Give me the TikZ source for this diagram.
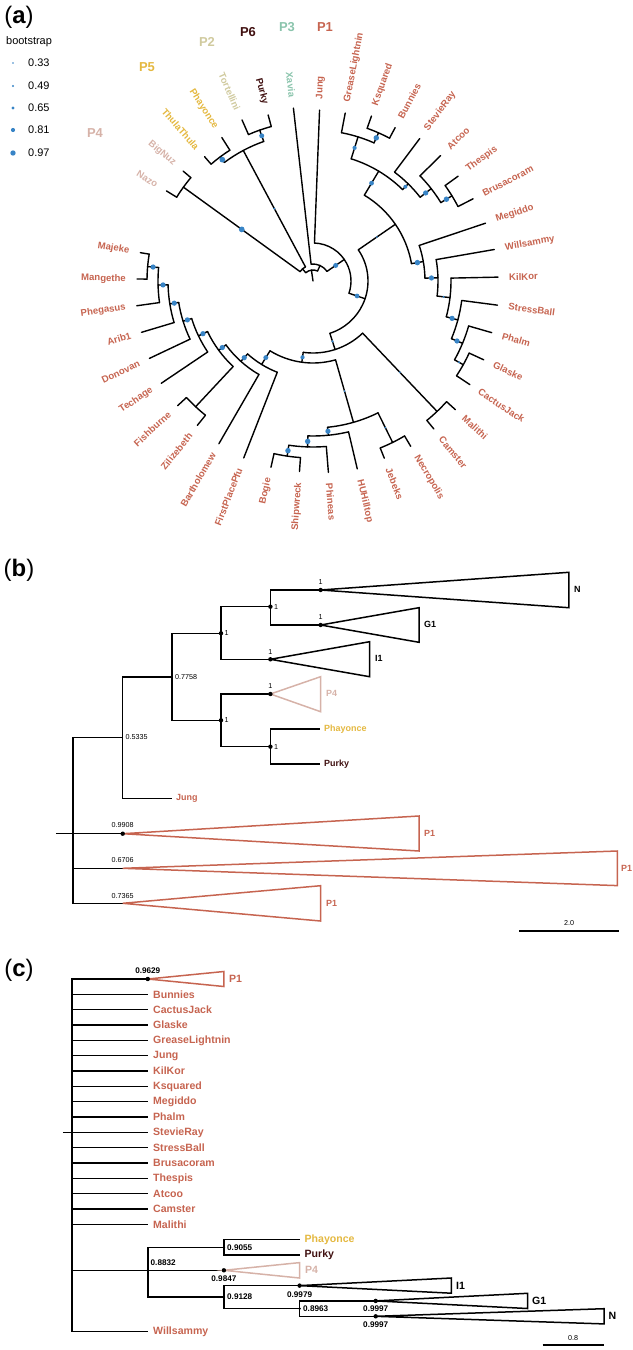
\documentclass[tikz,border=0pt]{standalone}
\usepackage{fontspec}
\setmainfont{Liberation Sans}
\definecolor{pOne}{RGB}{198,100,80}
\definecolor{pTwo}{RGB}{208,202,158}
\definecolor{pThree}{RGB}{138,196,172}
\definecolor{pFour}{RGB}{214,178,168}
\definecolor{pFive}{RGB}{228,184,64}
\definecolor{pSix}{RGB}{64,16,16}
\definecolor{bsblue}{RGB}{56,132,198}
% circular tree helpers: compass angle (clockwise from up)
\newcommand\cbarc[3]{\draw[tr] ({90-(#1)}:#3) arc[start angle={90-(#1)}, end angle={90-(#2)}, radius=#3];}
\newcommand\cbnode[5]{\draw[tr] ({90-(#1)}:#2) -- ({90-(#1)}:#3);\cbarc{#4}{#5}{#3}}
\newcommand\cbleafR[6]{\draw[tr] ({90-(#1)}:#2) -- ({90-(#1)}:#3);
  \node[leafa,text=#6,anchor=west,rotate={90-(#1)}] (#5) at ({90-(#1)}:{#3+11}) {#4};}
\newcommand\cbleafL[6]{\draw[tr] ({90-(#1)}:#2) -- ({90-(#1)}:#3);
  \node[leafa,text=#6,anchor=east,rotate={270-(#1)}] (#5) at ({90-(#1)}:{#3+11}) {#4};}
\newcommand\cbdot[4]{\fill[bsblue] ({90-(#1)}:{((#2)+(#3))/2}) circle[radius={1.25*(#4)}];}
\begin{document}
\begin{tikzpicture}[x=1bp,y=1bp,
  tr/.style={line width=1.4bp,line cap=round,line join=round},
  tri/.style={line width=1.5bp,line join=miter},
  leafa/.style={font={\bfseries\fontsize{9.6}{9.6}\selectfont},inner sep=0pt},
  leafb/.style={font={\bfseries\fontsize{9}{9}\selectfont},inner sep=0pt,anchor=west},
  leafc/.style={font={\bfseries\fontsize{10.6}{10.6}\selectfont},inner sep=0pt,anchor=west},
  valb/.style={font={\fontsize{7.2}{7.2}\selectfont},inner sep=0pt},
  valc/.style={font={\bfseries\fontsize{8.2}{8.2}\selectfont},inner sep=0pt},
  grp/.style={font={\bfseries\fontsize{13}{13}\selectfont},inner sep=0pt},
  panel/.style={font={\fontsize{24}{24}\selectfont},inner sep=0pt},
  leg/.style={font={\fontsize{11}{11}\selectfont},inner sep=0pt,anchor=west}]
\useasboundingbox (0,0) rectangle (633,-1350);

% ================= panel (a) =================
\node[panel] (la) at (19,-17) {(\textbf{a})};
\node[leg] (legt) at (6,-42) {bootstrap};
\fill[bsblue] (13,-63) circle[radius=0.8];  \node[leg] (l1) at (28,-63) {0.33};
\fill[bsblue] (13,-86) circle[radius=1.2];  \node[leg] (l2) at (28,-86) {0.49};
\fill[bsblue] (13,-108) circle[radius=1.6]; \node[leg] (l3) at (28,-108) {0.65};
\fill[bsblue] (13,-130) circle[radius=2.1]; \node[leg] (l4) at (28,-130) {0.81};
\fill[bsblue] (13,-153) circle[radius=2.7]; \node[leg] (l5) at (28,-153) {0.97};

\node[grp,text=pOne]   (gP1) at (325,-27) {P1};
\node[grp,text=pThree] (gP3) at (287,-27) {P3};
\node[grp,text=pSix]   (gP6) at (248,-32) {P6};
\node[grp,text=pTwo]   (gP2) at (207,-42) {P2};
\node[grp,text=pFive]  (gP5) at (147,-67) {P5};
\node[grp,text=pFour]  (gP4) at (95,-133) {P4};

\begin{scope}[shift={(313,-281)}]
\draw[tr] (0,0) -- ({90-(-8.29)}:11);
\cbarc{-41.10}{24.52}{11}
% Ta : P4, P5/P2/P6
\cbnode{-41.10}{11}{16}{-54.09}{-28.11}
\cbnode{-54.09}{16}{160}{-58.42}{-49.76}
\cbleafL{-58.42}{160}{172}{Nazo}{aNazo}{pFour}
\cbleafL{-49.76}{160}{170}{BigNuz}{aBigNuz}{pFour}
\cbnode{-28.11}{16}{148}{-36.77}{-19.45}
\cbnode{-36.77}{148}{155}{-41.10}{-32.44}
\cbleafL{-41.10}{155}{165}{ThulaThula}{aThula}{pFive}
\cbleafL{-32.44}{155}{170}{Phayonce}{aPhayonce}{pFive}
\cbnode{-19.45}{148}{160}{-23.78}{-15.12}
\cbleafL{-23.78}{160}{176}{Tortellini}{aTort}{pTwo}
\cbleafL{-15.12}{160}{172}{Purky}{aPurky}{pSix}
% Tb
\cbnode{24.52}{11}{17}{-6.46}{55.5}
\cbleafL{-6.46}{17}{174}{Xavia}{aXavia}{pThree}
% Tc
\cbnode{55.5}{17}{38}{2.2}{108.79}
\cbleafR{2.2}{38}{171}{Jung}{aJung}{pOne}
% Td
\cbnode{108.79}{38}{55}{55.45}{162.13}
% P1 main
\cbnode{55.45}{55}{100}{30.89}{80.0}
\cbnode{30.89}{100}{128}{17.355}{44.42}
\cbnode{17.355}{128}{151}{10.86}{23.85}
\cbleafR{10.86}{151}{171}{GreaseLightnin}{aGrease}{pOne}
\cbnode{23.85}{151}{162}{19.52}{28.18}
\cbleafR{19.52}{162}{175}{Ksquared}{aKsq}{pOne}
\cbleafR{28.18}{162}{174}{Bunnies}{aBunnies}{pOne}
\cbnode{44.42}{128}{136}{36.84}{51.995}
\cbleafR{36.84}{136}{178}{StevieRay}{aStevie}{pOne}
\cbnode{51.995}{136}{150}{45.5}{58.49}
\cbleafR{45.5}{150}{179}{Atcoo}{aAtcoo}{pOne}
\cbnode{58.49}{150}{163}{54.16}{62.82}
\cbleafR{54.16}{163}{179}{Thespis}{aThespis}{pOne}
\cbleafR{62.82}{163}{180}{Brusacoram}{aBrusa}{pOne}
\cbnode{80.0}{100}{112}{71.48}{88.53}
\cbleafR{71.48}{112}{182}{Megiddo}{aMegiddo}{pOne}
\cbnode{88.53}{112}{125}{80.14}{96.92}
\cbleafR{80.14}{125}{184}{Willsammy}{aWills}{pOne}
\cbnode{96.92}{125}{138}{88.8}{105.04}
\cbleafR{88.8}{138}{185}{KilKor}{aKilKor}{pOne}
\cbnode{105.04}{138}{150}{97.46}{112.615}
\cbleafR{97.46}{150}{186}{StressBall}{aStress}{pOne}
\cbnode{112.615}{150}{162}{106.12}{119.11}
\cbleafR{106.12}{162}{186}{Phalm}{aPhalm}{pOne}
\cbnode{119.11}{162}{172}{114.78}{123.44}
\cbleafR{114.78}{172}{188}{Glaske}{aGlaske}{pOne}
\cbleafR{123.44}{172}{188}{CactusJack}{aCactus}{pOne}
% Te
\cbnode{162.13}{55}{72}{136.43}{187.83}
\cbnode{136.43}{72}{180}{132.1}{140.76}
\cbleafR{132.1}{180}{192}{Malithi}{aMalithi}{pOne}
\cbleafR{140.76}{180}{191}{Camster}{aCamster}{pOne}
% Tf
\cbnode{187.83}{72}{82}{164.03}{211.63}
\cbnode{164.03}{82}{147}{153.75}{174.32}
\cbnode{153.75}{147}{180}{149.42}{158.08}
\cbleafR{149.42}{180}{192}{Necropolis}{aNecro}{pOne}
\cbleafR{158.08}{180}{191}{Jebeks}{aJebeks}{pOne}
\cbnode{174.32}{147}{155}{166.74}{181.895}
\cbleafR{166.74}{155}{193}{HUHilltop}{aHUH}{pOne}
\cbnode{181.895}{155}{166}{175.4}{188.39}
\cbleafR{175.4}{166}{192}{Phineas}{aPhineas}{pOne}
\cbnode{188.39}{166}{177}{184.06}{192.72}
\cbleafL{184.06}{177}{191}{Shipwreck}{aShip}{pOne}
\cbleafL{192.72}{177}{191}{Bogie}{aBogie}{pOne}
\cbnode{211.63}{82}{98}{201.38}{221.88}
\cbleafL{201.38}{98}{190}{FirstPlacePfu}{aFirst}{pOne}
\cbnode{221.88}{98}{108}{210.04}{233.72}
\cbleafL{210.04}{108}{188}{Bartholomew}{aBarth}{pOne}
\cbnode{233.72}{108}{117}{223.03}{244.41}
\cbnode{223.03}{117}{172}{218.7}{227.36}
\cbleafL{218.7}{172}{185}{Zilizebeth}{aZili}{pOne}
\cbleafL{227.36}{172}{184}{Fishburne}{aFish}{pOne}
\cbnode{244.41}{117}{127}{236.02}{252.8}
\cbleafL{236.02}{127}{183}{Techage}{aTechage}{pOne}
\cbnode{252.8}{127}{136}{244.68}{260.92}
\cbleafL{244.68}{136}{181}{Donovan}{aDonovan}{pOne}
\cbnode{260.92}{136}{145}{253.34}{268.495}
\cbleafL{253.34}{145}{179}{Arib1}{aArib}{pOne}
\cbnode{268.495}{145}{155}{262.0}{274.99}
\cbleafL{262.0}{155}{178}{Phegasus}{aPheg}{pOne}
\cbnode{274.99}{155}{166}{270.66}{279.32}
\cbleafL{270.66}{166}{176}{Mangethe}{aMang}{pOne}
\cbleafL{279.32}{166}{175}{Majeke}{aMajeke}{pOne}
% bootstrap dots
\cbdot{-54.09}{16}{160}{2.3}
\cbdot{-28.11}{16}{148}{0.9}
\cbdot{-36.77}{148}{155}{2.3}
\cbdot{-19.45}{148}{160}{2.0}
\cbdot{55.5}{17}{38}{2.0}
\cbdot{108.79}{38}{55}{1.9}
\cbdot{55.45}{55}{100}{0.8}
\cbdot{30.89}{100}{128}{1.9}
\cbdot{17.355}{128}{151}{1.7}
\cbdot{23.85}{151}{162}{2.2}
\cbdot{44.42}{128}{136}{1.6}
\cbdot{51.995}{136}{150}{2.1}
\cbdot{58.49}{150}{163}{2.2}
\cbdot{80.0}{100}{112}{2.2}
\cbdot{88.53}{112}{125}{2.1}
\cbdot{96.92}{125}{138}{0.9}
\cbdot{105.04}{138}{150}{2.1}
\cbdot{112.615}{150}{162}{2.1}
\cbdot{119.11}{162}{172}{0.9}
\cbdot{162.13}{55}{72}{1.0}
\cbdot{136.43}{72}{180}{0.8}
\cbdot{187.83}{72}{82}{1.7}
\cbdot{164.03}{82}{147}{0.8}
\cbdot{153.75}{147}{180}{0.8}
\cbdot{174.32}{147}{155}{2.1}
\cbdot{181.895}{155}{166}{2.2}
\cbdot{188.39}{166}{177}{2.2}
\cbdot{211.63}{82}{98}{2.0}
\cbdot{221.88}{98}{108}{2.1}
\cbdot{233.72}{108}{117}{2.1}
\cbdot{244.41}{117}{127}{2.1}
\cbdot{252.8}{127}{136}{2.1}
\cbdot{260.92}{136}{145}{2.1}
\cbdot{268.495}{145}{155}{2.1}
\cbdot{274.99}{155}{166}{2.1}
\end{scope}

% ================= panel (b) =================
\node[panel] (lb) at (19,-570) {(\textbf{b})};
\coordinate (bst) at (55.9,-833.7);
\coordinate (b0) at (72.9,-833.7);
\coordinate (b1) at (122.7,-737.5);
\coordinate (bJung) at (172,-798.3);
\coordinate (b2) at (172,-676.8);
\coordinate (b3) at (221,-633.3);
\coordinate (b4) at (270.4,-606.7);
\coordinate (bN) at (320.6,-590);
\coordinate (bG) at (320.6,-625);
\coordinate (bI) at (270.4,-659.3);
\coordinate (b5) at (221,-720.3);
\coordinate (bP4) at (270.4,-694);
\coordinate (b6) at (270.4,-746.7);
\coordinate (bPha) at (320,-729);
\coordinate (bPur) at (320,-764);
\coordinate (bP1a) at (122.7,-833.7);
\coordinate (bP1b) at (122.7,-868.3);
\coordinate (bP1c) at (122.7,-903.3);
\draw[tri] (bst) -- (b0);
\draw[tri] (b0) |- (b1);
\draw[tri] (b0) |- (bP1b);
\draw[tri] (b0) |- (bP1c);
\draw[tri] (b0) -- (bP1a);
\draw[tri] (b1) |- (b2);
\draw[tri] (b1) |- (bJung);
\draw[tri] (b2) |- (b3);
\draw[tri] (b2) |- (b5);
\draw[tri] (b3) |- (b4);
\draw[tri] (b3) |- (bI);
\draw[tri] (b4) |- (bN);
\draw[tri] (b4) |- (bG);
\draw[tri] (b5) |- (bP4);
\draw[tri] (b5) |- (b6);
\draw[tri] (b6) |- (bPha);
\draw[tri] (b6) |- (bPur);
% collapsed clades
\draw[tri] (bN) -- (568.8,-572.3) -- (568.8,-607.7) -- cycle;
\draw[tri] (bG) -- (419,-607.7) -- (419,-642.3) -- cycle;
\draw[tri] (bI) -- (369.6,-641.7) -- (369.6,-676.7) -- cycle;
\draw[tri,pFour] (bP4) -- (320.6,-676.7) -- (320.6,-711.7) -- cycle;
\draw[tri,pOne] (bP1a) -- (419,-816) -- (419,-851) -- cycle;
\draw[tri,pOne] (bP1b) -- (617.4,-851) -- (617.4,-885.6) -- cycle;
\draw[tri,pOne] (bP1c) -- (320.6,-885.7) -- (320.6,-921) -- cycle;
\foreach \p in {bN,bG,b4,b3,bI,bP4,b5,b6,bP1a} \fill (\p) circle[radius=2.2];
% labels
\node[leafb] (bLN) at (574,-589) {N};
\node[leafb] (bLG) at (424,-624) {G1};
\node[leafb] (bLI) at (375,-658.3) {I1};
\node[leafb,text=pFour] (bLP4) at (326,-693) {P4};
\node[leafb,text=pFive] (bLPha) at (324,-729) {Phayonce};
\node[leafb,text=pSix] (bLPur) at (324,-764) {Purky};
\node[leafb,text=pOne] (bLJung) at (176,-798.3) {Jung};
\node[leafb,text=pOne] (bLP1a) at (424,-833.3) {P1};
\node[leafb,text=pOne] (bLP1b) at (621,-868) {P1};
\node[leafb,text=pOne] (bLP1c) at (326,-903.3) {P1};
\node[valb] (bv1) at (320.6,-582.5) {1};
\node[valb] (bv2) at (320.6,-617.5) {1};
\node[valb] (bv3) at (270.4,-651.8) {1};
\node[valb] (bv4) at (270.4,-686.5) {1};
\node[valb,anchor=west] (bv5) at (274,-606.7) {1};
\node[valb,anchor=west] (bv6) at (224.5,-633.3) {1};
\node[valb,anchor=west] (bv7) at (224.5,-720.3) {1};
\node[valb,anchor=west] (bv8) at (274,-746.7) {1};
\node[valb,anchor=west] (bv9) at (175,-676.8) {0.7758};
\node[valb,anchor=west] (bv10) at (125.5,-737.5) {0.5335};
\node[valb] (bv11) at (122.7,-825.5) {0.9908};
\node[valb] (bv12) at (122.7,-860.5) {0.6706};
\node[valb] (bv13) at (122.7,-895.8) {0.7365};
\coordinate (bs1) at (519.4,-931);
\coordinate (bs2) at (618.6,-931);
\draw[tri] (bs1) -- (bs2);
\node[valb] (bsl) at (569,-923) {2.0};

% ================= panel (c) =================
\node[panel] (lc) at (19,-970) {(\textbf{c})};
\coordinate (cst) at (62.8,-1132.3);
\coordinate (c0) at (72,-1132.3);
\coordinate (cP1) at (147.8,-979);
\coordinate (c1) at (147.8,-1270.3);
\coordinate (cWill) at (147.8,-1331.6);
\coordinate (c2) at (223.9,-1247.3);
\coordinate (cP4) at (223.9,-1270.3);
\coordinate (c3) at (223.9,-1297.1);
\coordinate (cPha) at (299.6,-1239.6);
\coordinate (cPur) at (299.6,-1254.9);
\coordinate (cI) at (299.6,-1285.6);
\coordinate (c4) at (299.6,-1308.6);
\coordinate (cG) at (375.7,-1300.9);
\coordinate (cN) at (375.7,-1316.3);
\draw[tri] (cst) -- (c0);
\draw[tri] (c0) |- (cP1);
\draw[tri] (c0) |- (c1);
\draw[tri] (c0) |- (cWill);
\foreach \k/\t [count=\i] in {994.33/Bunnies,1009.66/CactusJack,1025/Glaske,1040.3/GreaseLightnin,1055.6/Jung,1071/KilKor,1086.3/Ksquared,1101.6/Megiddo,1117/Phalm,1132.3/StevieRay,1147.6/StressBall,1163/Brusacoram,1178.3/Thespis,1193.6/Atcoo,1209/Camster,1224.3/Malithi}{
  \coordinate (cL\i) at (147.8,-\k);
  \draw[tri] (c0) |- (cL\i);
  \node[leafc,text=pOne] (cT\i) at (153,-\k) {\t};
}
\node[leafc,text=pOne] (cTW) at (153,-1331.6) {Willsammy};
\draw[tri] (c1) |- (c2);
\draw[tri] (c1) -- (cP4);
\draw[tri] (c1) |- (c3);
\draw[tri] (c2) |- (cPha);
\draw[tri] (c2) |- (cPur);
\draw[tri] (c3) |- (cI);
\draw[tri] (c3) |- (c4);
\draw[tri] (c4) |- (cG);
\draw[tri] (c4) |- (cN);
\draw[tri,pOne] (cP1) -- (223.9,-971.5) -- (223.9,-986.5) -- cycle;
\draw[tri,pFour] (cP4) -- (299.6,-1262.6) -- (299.6,-1278) -- cycle;
\draw[tri] (cI) -- (451.4,-1278) -- (451.4,-1293.2) -- cycle;
\draw[tri] (cG) -- (527.5,-1293.3) -- (527.5,-1308.5) -- cycle;
\draw[tri] (cN) -- (604,-1308.7) -- (604,-1323.9) -- cycle;
\foreach \p in {cP1,cP4,cI,cG,cN} \fill (\p) circle[radius=2.2];
\foreach \p in {c1,c2,c3,c4} \fill (\p) circle[radius=1.3];
\node[leafc,text=pOne] (cLP1) at (229,-979) {P1};
\node[leafc,text=pFive] (cLPha) at (304.5,-1239.6) {Phayonce};
\node[leafc,text=pSix] (cLPur) at (304.5,-1254.9) {Purky};
\node[leafc,text=pFour] (cLP4) at (305,-1270.3) {P4};
\node[leafc] (cLI) at (456,-1285.6) {I1};
\node[leafc] (cLG) at (532,-1300.9) {G1};
\node[leafc] (cLN) at (608.5,-1316.3) {N};
\node[valc] (cv1) at (147.8,-970.5) {0.9629};
\node[valc,anchor=west] (cv2) at (150.5,-1263) {0.8832};
\node[valc,anchor=west] (cv3) at (227,-1247.3) {0.9055};
\node[valc] (cv4) at (223.9,-1278.6) {0.9847};
\node[valc,anchor=west] (cv5) at (227,-1297.1) {0.9128};
\node[valc] (cv6) at (299.6,-1294.2) {0.9979};
\node[valc,anchor=west] (cv7) at (303,-1308.6) {0.8963};
\node[valc] (cv8) at (375.7,-1308.9) {0.9997};
\node[valc] (cv9) at (375.7,-1325) {0.9997};
\coordinate (cs1) at (542.5,-1345);
\coordinate (cs2) at (604,-1345);
\draw[tri] (cs1) -- (cs2);
\node[valb] (csl) at (573,-1338) {0.8};
\end{tikzpicture}
\end{document}
